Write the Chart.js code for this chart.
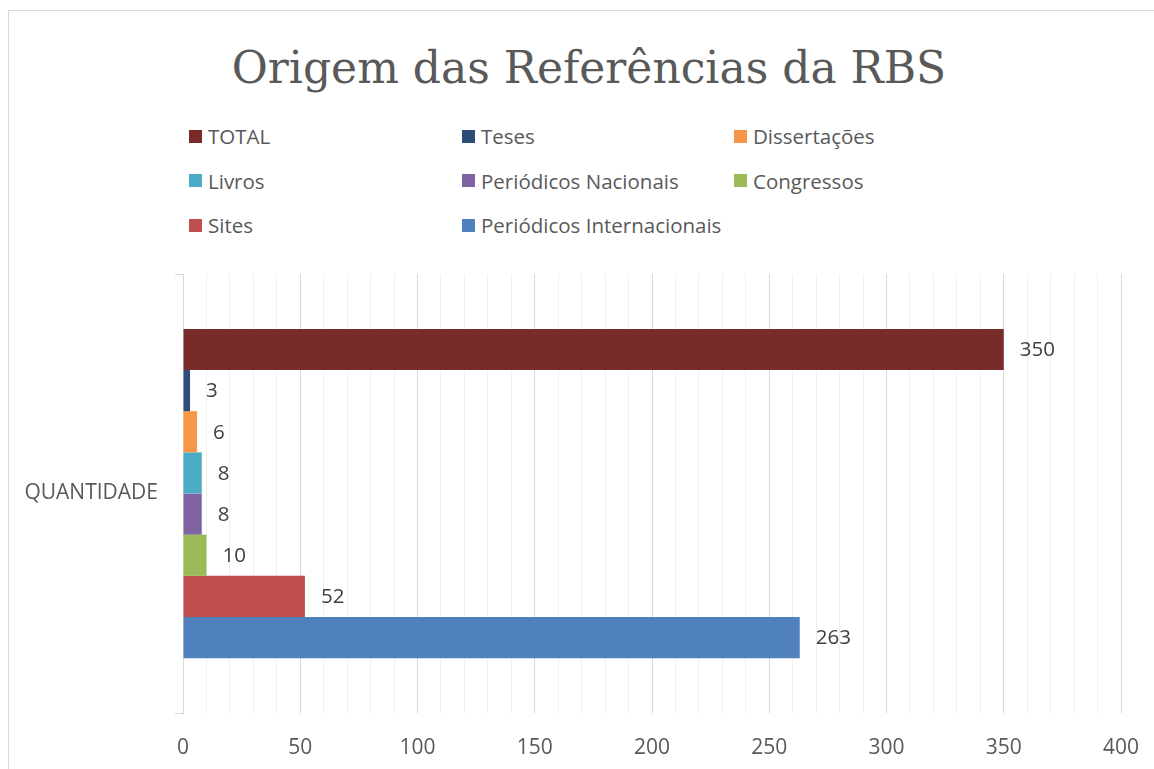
<!DOCTYPE html>
<html>
<head>
<meta charset="utf-8">
<script src="https://cdn.jsdelivr.net/npm/chart.js@4.4.0/dist/chart.umd.min.js"></script>
<style>
	html, body { margin: 0; padding: 0; background: #fff; }
	body { width: 1154px; height: 769px; position: relative; overflow: hidden; font-family: 'Open Sans', sans-serif; }
	#frame { position: absolute; left: 8px; top: 10px; width: 1200px; height: 800px; border-left: 1px solid #d9d9d9; border-top: 1px solid #d9d9d9; }
	#title { position: absolute; left: 0; width: 1178px; top: 42px; text-align: center; font-family: 'DejaVu Serif', serif; font-size: 44px; color: #595959; white-space: nowrap; }
	#legend { position: absolute; left: 189px; top: 121px; display: grid; grid-template-columns: 273px 272px 273px; grid-auto-rows: 44.5px; }
	.legend-item { display: flex; align-items: center; height: 30px; font-size: 20.5px; color: #595959; white-space: nowrap; }
	.legend-box { width: 13px; height: 13px; margin-right: 6px; flex: none; }
	#wrap { position: absolute; left: 0; top: 0; width: 1154px; height: 769px; }
</style>
</head>
<body>
<div id="frame"></div>
<div id="title">Origem das Referências da RBS</div>
<div id="legend"></div>
<div id="wrap"><canvas id="chart"></canvas></div>
<script>
// chart values
const categories = ['QUANTIDADE'];
const seriesNames = ['TOTAL', 'Teses', 'Dissertações', 'Livros', 'Periódicos Nacionais', 'Congressos', 'Sites', 'Periódicos Internacionais'];
const seriesValues = [350, 3, 6, 8, 8, 10, 52, 263];
const seriesColors = ['#772C2A', '#2C4D75', '#F79646', '#4BACC6', '#8064A2', '#9BBB59', '#C0504D', '#4F81BD'];
const xTickLabels = [0, 50, 100, 150, 200, 250, 300, 350, 400];

let datasets = seriesNames.map((name, i) => ({
	label: name,
	data: [seriesValues[i]],
	backgroundColor: seriesColors[i],
	borderWidth: 0,
	categoryPercentage: 0.75,
	barPercentage: 1,
}));

// value labels at the end of each bar
let barValueLabels = {
	id: 'barValueLabels',
	afterDatasetsDraw (chart) {
		let { ctx } = chart;
		ctx.save();
		ctx.font = '20.5px "Open Sans", sans-serif';
		ctx.fillStyle = '#404040';
		ctx.textAlign = 'left';
		ctx.textBaseline = 'middle';
		chart.data.datasets.forEach((ds, i) => {
			let meta = chart.getDatasetMeta(i);
			meta.data.forEach((bar, j) => {
				ctx.fillText(String(ds.data[j]), bar.x + 16, bar.y + 1);
			});
		});
		ctx.restore();
	},
};

let chart = new Chart(document.getElementById('chart'), {
	type: 'bar',
	data: {
		labels: categories,
		datasets: datasets,
	},
	options: {
		indexAxis: 'y',
		responsive: true,
		maintainAspectRatio: false,
		animation: false,
		layout: {
			padding: { top: 274, right: 33, left: 0, bottom: 0 },
		},
		plugins: {
			legend: { display: false },
			tooltip: { enabled: false },
		},
		scales: {
			x: {
				min: 0,
				max: 400,
				afterFit (scale) {
					scale.height = 56;
					scale.paddingRight = 0;
					scale.paddingLeft = 0;
				},
				border: { display: false },
				grid: {
					drawTicks: false,
					color: (ctx) => (ctx.tick && ctx.tick.value % 50 === 0 ? '#d9d9d9' : '#f0f0f0'),
					lineWidth: 1,
				},
				ticks: {
					stepSize: 10,
					autoSkip: false,
					maxRotation: 0,
					padding: 22,
					color: '#595959',
					font: { size: 21, family: 'Open Sans' },
					callback: (value) => (xTickLabels.includes(value) ? String(value) : ''),
				},
			},
			y: {
				afterFit (scale) { scale.width = 183; },
				border: { display: true, color: '#d9d9d9', width: 1 },
				grid: {
					offset: true,
					drawOnChartArea: false,
					drawTicks: true,
					tickLength: 8,
					color: '#d9d9d9',
				},
				ticks: {
					padding: 17,
					color: '#595959',
					font: { size: 21, family: 'Open Sans' },
				},
			},
		},
	},
	plugins: [ barValueLabels ],
});

// html legend laid out in three columns like the original
let legendEl = document.getElementById('legend');
chart.data.datasets.forEach((ds) => {
	let item = document.createElement('div');
	item.className = 'legend-item';
	item.innerHTML = `<span class="legend-box" style="background:${ds.backgroundColor}"></span><span>${ds.label}</span>`;
	legendEl.appendChild(item);
});
</script>
</body>
</html>
